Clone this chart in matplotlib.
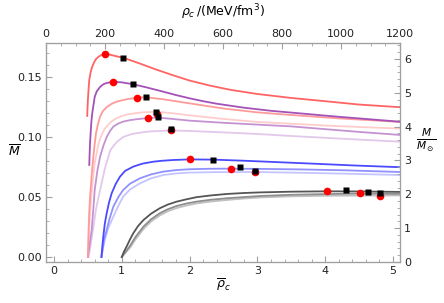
import numpy as np
import matplotlib
matplotlib.use("Agg")
import matplotlib.pyplot as plt
from matplotlib.ticker import MultipleLocator, FormatStrFormatter

# curves: (rho_bar, M_bar)
red_x = [0.49, 0.495, 0.50, 0.51, 0.52, 0.54, 0.56, 0.59, 0.62, 0.66, 0.70, 0.75, 0.82, 0.90, 1.02, 1.15,
         1.3, 1.5, 1.75, 2.0, 2.3, 2.6, 3.0, 3.5, 4.0, 4.5, 5.1]
red_y = [0.1175, 0.125, 0.131, 0.140, 0.1475, 0.154, 0.158, 0.162, 0.165, 0.167, 0.1683, 0.169, 0.1687, 0.1675,
         0.166, 0.1635, 0.1605, 0.1563, 0.1515, 0.147, 0.1428, 0.1393, 0.1358, 0.1325, 0.1298, 0.127, 0.1248]

purple_x = [0.52, 0.525, 0.53, 0.54, 0.55, 0.56, 0.575, 0.59, 0.60, 0.63, 0.68, 0.73, 0.78, 0.87, 1.0, 1.16,
            1.35, 1.56, 1.8, 2.0, 2.2, 2.4, 2.8, 3.2, 3.6, 4.2, 4.6, 5.1]
purple_y = [0.0767, 0.085, 0.0933, 0.103, 0.1117, 0.118, 0.124, 0.1295, 0.1333, 0.138, 0.1417, 0.144, 0.145,
            0.146, 0.1455, 0.144, 0.1415, 0.1385, 0.1349, 0.1322, 0.1298, 0.1277, 0.1244, 0.1218, 0.1198,
            0.1168, 0.115, 0.1127]

lred_x = [0.50, 0.505, 0.51, 0.52, 0.53, 0.54, 0.56, 0.58, 0.60, 0.62, 0.65, 0.68, 0.72, 0.78, 0.85, 0.92,
          1.07, 1.22, 1.35, 1.6, 2.0, 2.5, 3.0, 3.5, 4.2, 5.1]
lred_y = [0.0, 0.011, 0.0225, 0.038, 0.048, 0.056, 0.071, 0.0836, 0.094, 0.1033, 0.111, 0.117, 0.1215, 0.125,
          0.1276, 0.1294, 0.1314, 0.1328, 0.1331, 0.1315, 0.128, 0.1237, 0.1205, 0.1183, 0.1155, 0.1125]

pink_x = [0.50, 0.51, 0.52, 0.535, 0.55, 0.575, 0.60, 0.63, 0.66, 0.70, 0.75, 0.82, 0.90, 1.0, 1.1, 1.3, 1.5,
          1.75, 2.0, 2.5, 3.0, 3.5, 4.0, 4.5, 5.1]
pink_y = [0.0, 0.0125, 0.025, 0.038, 0.05, 0.065, 0.078, 0.087, 0.095, 0.1015, 0.107, 0.1115, 0.115, 0.1175,
          0.119, 0.1205, 0.121, 0.1198, 0.118, 0.115, 0.1125, 0.111, 0.1095, 0.1083, 0.107]

mpurple_x = [0.50, 0.52, 0.54, 0.556, 0.58, 0.60, 0.64, 0.68, 0.73, 0.78, 0.83, 0.875, 0.95, 1.02, 1.12, 1.22,
             1.39, 1.53, 1.75, 2.0, 2.5, 3.0, 3.5, 4.0, 4.5, 5.1]
mpurple_y = [0.0, 0.008, 0.016, 0.0225, 0.040, 0.0558, 0.072, 0.0836, 0.093, 0.1003, 0.1053, 0.1086, 0.1112,
             0.1128, 0.114, 0.1148, 0.1158, 0.1162, 0.115, 0.1136, 0.1118, 0.1103, 0.1088, 0.1065, 0.1042, 0.1017]

lpurple_x = [0.51, 0.54, 0.575, 0.62, 0.68, 0.75, 0.83, 0.92, 1.02, 1.15, 1.37, 1.55, 1.73, 2.0, 2.5, 3.0,
             3.5, 4.0, 4.5, 5.1]
lpurple_y = [0.0, 0.01, 0.0225, 0.040, 0.0558, 0.0735, 0.089, 0.0955, 0.1, 0.1025, 0.1044, 0.105, 0.1054,
             0.105, 0.1038, 0.1025, 0.1008, 0.0993, 0.0978, 0.0961]

blue_x = [0.70, 0.71, 0.727, 0.75, 0.777, 0.81, 0.85, 0.91, 0.973, 1.05, 1.17, 1.3, 1.465, 1.6, 1.76, 2.0,
          2.35, 2.8, 3.3, 3.8, 4.4, 5.1]
blue_y = [0.0, 0.007, 0.0169, 0.028, 0.0364, 0.045, 0.053, 0.0608, 0.0669, 0.0718, 0.0753, 0.0777, 0.0794,
          0.0802, 0.0808, 0.0813, 0.0811, 0.0802, 0.079, 0.0778, 0.0763, 0.0748]

mblue_x = [0.70, 0.72, 0.737, 0.777, 0.82, 0.875, 0.95, 1.02, 1.12, 1.27, 1.43, 1.61, 1.8, 2.0, 2.3, 2.61,
           3.0, 3.6, 4.3, 5.1]
mblue_y = [0.0, 0.0075, 0.0142, 0.0225, 0.032, 0.0419, 0.050, 0.0558, 0.061, 0.0656, 0.0688, 0.0711, 0.0724,
           0.0731, 0.0735, 0.0736, 0.0734, 0.073, 0.0722, 0.0708]

lblue_x = [0.70, 0.72, 0.75, 0.80, 0.875, 0.95, 1.02, 1.12, 1.27, 1.43, 1.61, 1.8, 2.0, 2.4, 2.96, 3.6, 4.3, 5.1]
lblue_y = [0.0, 0.0065, 0.0142, 0.024, 0.0336, 0.0428, 0.0503, 0.0562, 0.0614, 0.0655, 0.0683, 0.0696, 0.0703,
           0.0707, 0.0708, 0.0702, 0.0694, 0.0683]

dgrey_x = [1.0, 1.03, 1.07, 1.12, 1.17, 1.24, 1.32, 1.43, 1.56, 1.68, 1.81, 1.95, 2.1, 2.3, 2.55, 2.8, 3.04,
           3.5, 4.02, 4.5, 5.1]
dgrey_y = [0.0, 0.0042, 0.0086, 0.0145, 0.0198, 0.0258, 0.0308, 0.036, 0.0406, 0.0437, 0.0461, 0.048, 0.0498,
           0.0512, 0.0525, 0.0533, 0.0538, 0.0544, 0.0547, 0.0546, 0.0542]

mgrey_x = [1.0, 1.05, 1.12, 1.2, 1.32, 1.43, 1.56, 1.68, 1.81, 1.95, 2.1, 2.3, 2.55, 2.8, 3.04, 3.5, 4.0, 4.52, 5.1]
mgrey_y = [0.0, 0.0038, 0.0092, 0.0165, 0.0253, 0.0313, 0.0364, 0.0398, 0.0425, 0.0445, 0.0461, 0.0476, 0.0489,
           0.0499, 0.0508, 0.0518, 0.0524, 0.0528, 0.0525]

lgrey_x = [1.0, 1.05, 1.13, 1.2, 1.32, 1.43, 1.56, 1.68, 1.81, 1.95, 2.1, 2.3, 2.55, 2.8, 3.04, 3.5, 4.0, 4.81, 5.1]
lgrey_y = [0.0, 0.0032, 0.0083, 0.0145, 0.0233, 0.0295, 0.0346, 0.0381, 0.0408, 0.0428, 0.0446, 0.0461, 0.0475,
           0.0487, 0.0496, 0.0505, 0.051, 0.0512, 0.0513]

# maximum mass (red dots) and other marked points (black squares)
dot_x = [0.75, 0.87, 1.22, 1.52, 1.39, 1.73, 2.0, 2.61, 2.96, 4.02, 4.52, 4.81]
dot_y = [0.169, 0.146, 0.1328, 0.119, 0.116, 0.1054, 0.0813, 0.0736, 0.0708, 0.0547, 0.0529, 0.0510]
sq_x = [1.02, 1.16, 1.35, 1.50, 1.54, 1.73, 2.35, 2.75, 2.96, 4.31, 4.63, 4.81]
sq_y = [0.166, 0.144, 0.133, 0.1208, 0.1164, 0.1063, 0.0810, 0.0748, 0.0716, 0.0558, 0.0540, 0.0530]

curves = [
    (lpurple_x, lpurple_y, "#e2c8ea"),
    (pink_x, pink_y, "#ffcccc"),
    (mpurple_x, mpurple_y, "#c492d2"),
    (lred_x, lred_y, "#ff9a9a"),
    (purple_x, purple_y, "#a352b8"),
    (red_x, red_y, "#ff6464"),
    (lblue_x, lblue_y, "#c4c4ff"),
    (mblue_x, mblue_y, "#9090ff"),
    (blue_x, blue_y, "#4a4aff"),
    (lgrey_x, lgrey_y, "#c0c0c0"),
    (mgrey_x, mgrey_y, "#8e8e8e"),
    (dgrey_x, dgrey_y, "#555555"),
]

plt.rcParams["mathtext.fontset"] = "dejavusans"

fig = plt.figure(figsize=(4.44, 3.03), dpi=100)
ax = fig.add_axes([46/444, 1-262/303, 354/444, 219/303])

for x, y, c in curves:
    ax.plot(x, y, color=c, lw=1.3, solid_joinstyle="round")

ax.plot(dot_x, dot_y, "o", color="red", ms=5.5, mec="none", zorder=5)
ax.plot(sq_x, sq_y, "s", color="black", ms=4, mec="none", zorder=6)

ax.set_xlim(-0.118, 5.103)
ax.set_ylim(-0.0042, 0.1783)

frame_c = "#a0a0a0"


def style_ticks(a):
    a.tick_params(which="both", direction="in", color=frame_c, labelsize=8, labelcolor="#222222")
    a.tick_params(which="major", length=4, width=0.8, pad=3)
    a.tick_params(which="minor", length=2, width=0.6)
    for s in a.spines.values():
        s.set_color(frame_c)
        s.set_linewidth(0.8)


ax.xaxis.set_major_locator(MultipleLocator(1))
ax.xaxis.set_minor_locator(MultipleLocator(0.2))
ax.yaxis.set_major_locator(MultipleLocator(0.05))
ax.yaxis.set_minor_locator(MultipleLocator(0.01))
ax.yaxis.set_major_formatter(FormatStrFormatter("%.2f"))
style_ticks(ax)
ax.tick_params(top=False, right=False, which="both")

ax_top = ax.twiny()
ax_top.set_xlim(0, 1200)
ax_top.xaxis.set_major_locator(MultipleLocator(200))
ax_top.xaxis.set_minor_locator(MultipleLocator(50))
style_ticks(ax_top)

ax_r = ax.twinx()
ax_r.set_ylim(0, 6.47)
ax_r.yaxis.set_major_locator(MultipleLocator(1))
ax_r.yaxis.set_minor_locator(MultipleLocator(0.2))
style_ticks(ax_r)

fig.text(0.5 * (46 + 400) / 444, 1 - 285/303, r"$\overline{\rho}_c$", ha="center", va="center", fontsize=9)
fig.text(14/444, 1 - 152/303, r"$\overline{M}$", ha="center", va="center", fontsize=9)
fig.text(426/444, 1 - 140/303, r"$\frac{M}{M_\odot}$", ha="center", va="center", fontsize=11)
fig.text(0.5 * (46 + 400) / 444, 1 - 12/303, r"$\rho_c\,/(\mathrm{MeV/fm^3})$", ha="center", va="center", fontsize=9)

fig.savefig("out.png", dpi=100)
